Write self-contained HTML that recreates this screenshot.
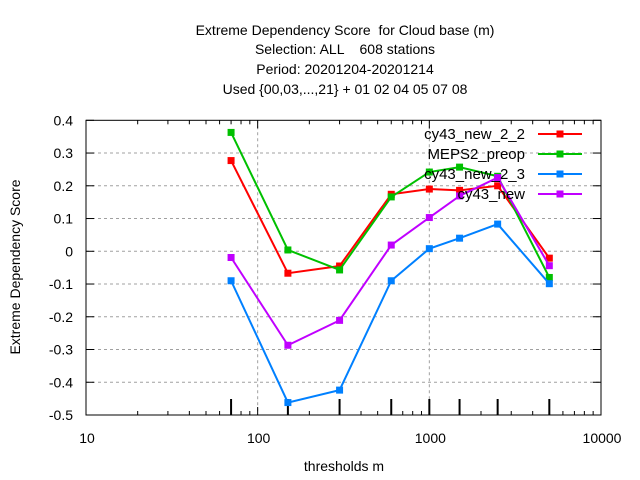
<!DOCTYPE html>
<html><head><meta charset="utf-8"><style>body{margin:0;background:#fff}svg{display:block;font-family:"Liberation Sans",sans-serif}text{white-space:pre}</style></head>
<body>
<svg id="c" width="640" height="480" viewBox="0 0 640 480" xmlns="http://www.w3.org/2000/svg">
<g font-size="14" text-anchor="middle" fill="#000">
<text x="345" y="35">Extreme Dependency Score  for Cloud base (m)</text>
<text x="345" y="54">Selection: ALL    608 stations</text>
<text x="345" y="74">Period: 20201204-20201214</text>
<text x="345" y="94">Used {00,03,...,21} + 01 02 04 05 07 08</text>
</g>
<g id="grid"></g>
<g id="axes"></g>
<g id="series"></g>
<g id="legend"></g>
<text x="344" y="471" font-size="14" text-anchor="middle">thresholds m</text>
<text transform="translate(20,267) rotate(-90)" font-size="14" text-anchor="middle">Extreme Dependency Score</text>
</svg>
<script>
const thresholds=[70,150,300,600,1000,1500,2500,5000];
const seriesNames=["cy43_new_2_2","MEPS2_preop","cy43_new_2_3","cy43_new"];
const seriesColors=["#ff0000","#00c000","#0080ff","#c000ff"];
const red=[0.277,-0.067,-0.045,0.174,0.19,0.186,0.2,-0.021];
const green=[0.363,0.004,-0.057,0.166,0.242,0.257,0.229,-0.08];
const blue=[-0.09,-0.462,-0.424,-0.09,0.008,0.04,0.083,-0.099];
const purple=[-0.019,-0.287,-0.211,0.019,0.103,0.169,0.225,-0.044];
const yTicks=[0.4,0.3,0.2,0.1,0,-0.1,-0.2,-0.3,-0.4,-0.5];
const yTickLabels=["0.4","0.3","0.2","0.1","0","-0.1","-0.2","-0.3","-0.4","-0.5"];
const xTicks=[10,100,1000,10000];
const xTickLabels=["10","100","1000","10000"];
const L=86,R=601,T=120.3,B=415;
const NS="http://www.w3.org/2000/svg";
const xs=v=>L+(Math.log10(v)-1)*(R-L)/3;
const ys=v=>T+(0.4-v)*(B-T)/0.9;
function mk(p,t,a){const e=document.createElementNS(NS,t);for(const k in a)e.setAttribute(k,a[k]);p.appendChild(e);return e;}
const grid=document.getElementById('grid'),axes=document.getElementById('axes'),ser=document.getElementById('series'),leg=document.getElementById('legend');
yTicks.forEach((v,i)=>{const y=ys(v);
 if(i>0&&i<yTicks.length-1){const g=mk(grid,'line',{x1:L,x2:R,y1:y,y2:y,stroke:'#a0a0a0','stroke-dasharray':'3,3','stroke-width':1});}
 mk(axes,'line',{x1:L,x2:L+8,y1:y,y2:y,stroke:'#000'});mk(axes,'line',{x1:R-8,x2:R,y1:y,y2:y,stroke:'#000'});
 const t=mk(axes,'text',{x:L-13,y:y+5,'font-size':14,'text-anchor':'end'});t.textContent=yTickLabels[i];
 });
xTicks.forEach((v,i)=>{const x=xs(v);
 if(i>0&&i<xTicks.length-1){const g=mk(grid,'line',{x1:x,x2:x,y1:T,y2:B,stroke:'#a0a0a0','stroke-dasharray':'3,3'});}
 mk(axes,'line',{x1:x,x2:x,y1:B,y2:B-8,stroke:'#000'});mk(axes,'line',{x1:x,x2:x,y1:T,y2:T+8,stroke:'#000'});
 const t=mk(axes,'text',{x:x+1,y:B+28,'font-size':14,'text-anchor':'middle'});t.textContent=xTickLabels[i];
 
 if(i<xTicks.length-1)for(let m=2;m<10;m++){const mx=xs(v*m);mk(axes,'line',{x1:mx,x2:mx,y1:B,y2:B-4,stroke:'#000'});mk(axes,'line',{x1:mx,x2:mx,y1:T,y2:T+4,stroke:'#000'});}});
mk(axes,'rect',{x:L,y:T,width:R-L,height:B-T,fill:'none',stroke:'#000'});
thresholds.forEach(v=>{const b=mk(axes,'line',{x1:xs(v),x2:xs(v),y1:B-16,y2:B,stroke:'#000','stroke-width':2});});
[red,green,blue,purple].forEach((d,si)=>{const c=seriesColors[si];
 const pl=mk(ser,'polyline',{points:d.map((v,i)=>xs(thresholds[i])+','+ys(v)).join(' '),fill:'none',stroke:c,'stroke-width':2});
 
 d.forEach((v,i)=>{const p=mk(ser,'rect',{x:xs(thresholds[i])-3.5,y:ys(v)-3.5,width:7,height:7,fill:c});});
 const ly=134+si*20;
 const t=mk(leg,'text',{x:525,y:ly+5,'font-size':15,'text-anchor':'end'});t.textContent=seriesNames[si];
 
 const ll=mk(leg,'line',{x1:538,x2:582,y1:ly,y2:ly,stroke:c,'stroke-width':2});
 mk(leg,'rect',{x:556.5,y:ly-3.5,width:7,height:7,fill:c});});
</script>
</body></html>
